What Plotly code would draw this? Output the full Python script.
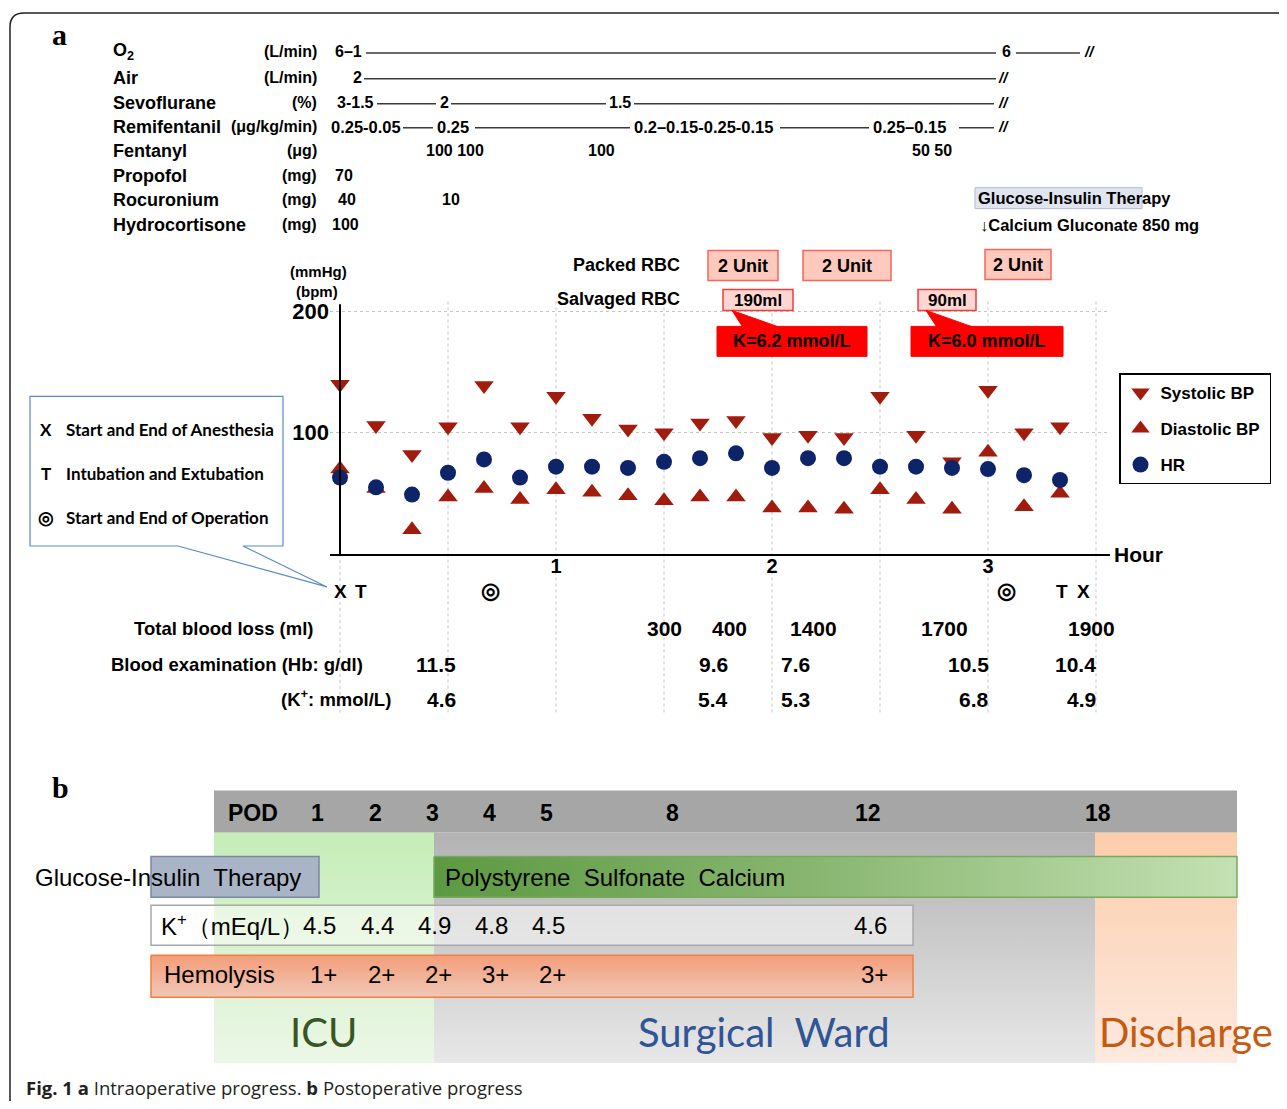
import plotly.graph_objects as go

W, H = 1287, 1109          # browser window size
OFF = 8                     # default body margin of the html page
FW, FH = W - 2 * OFF, H - 2 * OFF

# ---------------- data ----------------
time_min = [0, 10, 20, 30, 40, 50, 60, 70, 80, 90, 100, 110, 120, 130, 140, 150, 160, 170, 180, 190, 200]
systolic_bp = [140, 106, 82, 105, 139, 105, 130, 112, 103, 100, 108, 110, 96, 98, 96, 130, 98, 76, 135, 100, 105]
diastolic_bp = [70, 54, 20, 47, 54, 45, 53, 51, 48, 44, 47, 47, 38, 38, 37, 53, 45, 37, 84, 39, 50]
heart_rate = [63, 55, 49, 67, 78, 63, 72, 72, 71, 76, 79, 83, 71, 79, 79, 72, 72, 71, 70, 65, 61]

hour_ticks = [1, 2, 3]
y_ticks = [100, 200]

drug_names = ["O<sub>2</sub>", "Air", "Sevoflurane", "Remifentanil", "Fentanyl", "Propofol", "Rocuronium", "Hydrocortisone"]
drug_units = ["(L/min)", "(L/min)", "(%)", "(μg/kg/min)", "(μg)", "(mg)", "(mg)", "(mg)"]
drug_doses = [
    ["6–1", "6"],
    ["2"],
    ["3-1.5", "2", "1.5"],
    ["0.25-0.05", "0.25", "0.2–0.15-0.25-0.15", "0.25–0.15"],
    ["100 100", "100", "50 50"],
    ["70"],
    ["40", "10"],
    ["100"],
]

packed_rbc = ["2 Unit", "2 Unit", "2 Unit"]
salvaged_rbc = ["190ml", "90ml"]
salvaged_k = ["K=6.2 mmol/L", "K=6.0 mmol/L"]

blood_loss_ml = [300, 400, 1400, 1700, 1900]
hb_g_dl = [11.5, 9.6, 7.6, 10.5, 10.4]
k_intraop = [4.6, 5.4, 5.3, 6.8, 4.9]

pod_days = [1, 2, 3, 4, 5, 8, 12, 18]
k_postop_days = [1, 2, 3, 4, 5, 12]
k_postop = [4.5, 4.4, 4.9, 4.8, 4.5, 4.6]
hemolysis = ["1+", "2+", "2+", "3+", "2+", "3+"]

# ---------------- styling helpers ----------------
ARIAL = "Liberation Sans, Arial, sans-serif"
SERIF = "Liberation Serif, Times New Roman, serif"
CALIBRI = "Lato, Open Sans, sans-serif"
CAPTION = "Open Sans, sans-serif"
RED = "#a11c0c"
NAVY = "#0e2468"


def PX(x):
    return (x - OFF) / FW


def PY(y):
    return 1 - (y - OFF) / FH


annotations, shapes, deco = [], [], []


def txt(x, y, text, size=15, bold=True, anchor="left", color="black", family=ARIAL):
    t = f"<b>{text}</b>" if bold else text
    annotations.append(dict(x=x, y=y, xref="x2", yref="y2", text=t, showarrow=False,
                            xanchor=anchor, yanchor="middle",
                            font=dict(family=family, size=size, color=color)))


def seg(x0, y0, x1, y1, color="#3a3a3a", width=1.5):
    shapes.append(dict(type="line", xref="x2", yref="y2", x0=x0, y0=y0, x1=x1, y1=y1,
                       line=dict(color=color, width=width), layer="above"))


def box(x0, y0, x1, y1, fill, line="rgba(0,0,0,0)", width=1.5):
    shapes.append(dict(type="rect", xref="x2", yref="y2", x0=x0, y0=y0, x1=x1, y1=y1,
                       fillcolor=fill, line=dict(color=line, width=width), layer="above"))


def poly(path, fill, line, width=1.2):
    shapes.append(dict(type="path", xref="x2", yref="y2", path=path, fillcolor=fill,
                       line=dict(color=line, width=width), layer="above"))


def grad(x0, y0, x1, y1, colors, orient="vertical", line=None, lw=0):
    start, stop = (y0, y1) if orient == "vertical" else (x0, x1)
    n = len(colors)
    cs = [[i / (n - 1), c] for i, c in enumerate(colors)]
    deco.append(go.Scatter(x=[x0, x1, x1, x0, x0], y=[y0, y0, y1, y1, y0], xaxis="x2", yaxis="y2",
                           mode="lines", fill="toself",
                           fillgradient=dict(type=orient, colorscale=cs, start=start, stop=stop),
                           line=dict(width=lw, color=line or "rgba(0,0,0,0)"),
                           hoverinfo="skip", showlegend=False))


# ---------------- main scatter ----------------
hours = [t / 60 for t in time_min]
fig = go.Figure()
fig.add_trace(go.Scatter(x=hours, y=systolic_bp, mode="markers", name="<b>Systolic BP </b>",
                         marker=dict(symbol="triangle-down", size=17, color=RED), cliponaxis=False,
                         legendgroup="s"))
fig.add_trace(go.Scatter(x=hours, y=diastolic_bp, mode="markers", name="<b>Diastolic BP </b>",
                         marker=dict(symbol="triangle-up", size=17, color=RED), cliponaxis=False,
                         legendgroup="d"))
fig.add_trace(go.Scatter(x=hours, y=heart_rate, mode="markers", name="<b>HR</b>",
                         marker=dict(symbol="circle", size=16, color=NAVY), cliponaxis=False,
                         legendgroup="h"))

# vertical dotted gridlines (every half hour), extending through the table
for h in [0.5, 1, 1.5, 2, 2.5, 3, 3.5]:
    shapes.append(dict(type="line", xref="x", yref="paper", x0=h, x1=h, y0=PY(300), y1=PY(712),
                       line=dict(color="#c4c4c4", width=1, dash="dot"), layer="below"))
shapes.append(dict(type="line", xref="x", yref="paper", x0=0, x1=0, y0=PY(553), y1=PY(712),
                   line=dict(color="#c4c4c4", width=1, dash="dot"), layer="below"))
# vertical axis line at hour 0
shapes.append(dict(type="line", xref="x", yref="y", x0=0, x1=0, y0=0, y1=206,
                   line=dict(color="black", width=2), layer="above"))

# ---------------- outer frame ----------------
poly("M1300,11 L24,11 Q10,11 10,25 L10,1102", "rgba(0,0,0,0)", "#222", 1.5)

# ---------------- panel a : drugs ----------------
txt(50, 33, "a", 30, family=SERIF, anchor="left")
row_y = [50, 76, 101, 125, 149, 174, 198, 223]
dose_x = [[333, 1000], [351], [335, 438, 607], [329, 435, 632, 871], [424, 586, 910], [333], [336, 440], [330]]
line_segs = {0: [(366, 996), (1016, 1080)], 1: [(364, 996)], 2: [(377, 436), (451, 606), (634, 994)],
             3: [(403, 433), (475, 630), (780, 869), (959, 994)]}
slash_x = {0: 1082, 1: 996, 2: 996, 3: 996}
for i, (name, unit, y) in enumerate(zip(drug_names, drug_units, row_y)):
    txt(111, y, name, 18)
    txt(319, y, unit, 16, anchor="right")
    for d, xx in zip(drug_doses[i], dose_x[i]):
        txt(xx, y, d, 16.5 if i == 3 else 16)
    for (a, b) in line_segs.get(i, []):
        seg(a, y + 1, b, y + 1)
    if i in slash_x:
        txt(slash_x[i], y, "<i>//</i>", 15)

# glucose-insulin / calcium (top right)
box(975, 186, 1142, 207, "#dfe4ee", "#b3bfd3", 1)
txt(976, 196, "Glucose-Insulin Therapy", 16.5)
txt(978, 223, "<span style='font-weight:normal'>↓</span>Calcium Gluconate 850 mg", 16.5)

# transfusion rows
txt(682, 263, "Packed RBC", 18, anchor="right")
txt(682, 298, "Salvaged RBC", 18, anchor="right")
for (x0, x1, y0, y1), t in zip([(708, 778, 249, 279), (803, 891, 249, 279), (985, 1051, 248, 278)], packed_rbc):
    box(x0, y0, x1, y1, "#ffcabd", "#f5675a", 1.5)
    txt((x0 + x1) / 2, (y0 + y1) / 2, t, 18, anchor="center")
for (x0, x1), t in zip([(723, 793), (918, 976)], salvaged_rbc):
    box(x0, 288, x1, 309, "#ffd7d2", "#f23d3d", 1.5)
    txt((x0 + x1) / 2, 299, t, 17, anchor="center")
for (x0, x1, tip), t in zip([(717, 867, 732), (911, 1063, 926)], salvaged_k):
    box(x0, 325, x1, 355, "#ff0000", "#ff0000", 1)
    poly(f"M{tip},309 L{tip + 11},326 L{tip + 48},326 Z", "#ff0000", "#ff0000", 1)
    txt((x0 + x1) / 2, 340, t, 18, anchor="center")

# axis labels
txt(318, 270, "(mmHg)", 15, anchor="center")
txt(317, 290, "(bpm)", 15, anchor="center")
txt(1112, 553, "Hour", 21)

# event markers
for xx, s, sz, yy in [(340, "X", 19, 591), (361, "T", 19, 591), (490, "◎", 22, 590),
                      (1006, "◎", 22, 590), (1062, "T", 19, 591), (1083, "X", 19, 591)]:
    txt(xx, yy, s, sz, anchor="center")

# callout legend (left)
poly("M30,395 L283,395 L283,545 L243,545 L327,586 L178,545 L30,545 Z", "white", "#5b8bc6", 1.2)
for yy, sym, label, sz in [(428, "X", "Start and End of Anesthesia", 17), (472, "T", "Intubation and Extubation", 17),
                           (516, "◎", "Start and End of Operation", 18)]:
    txt(46, yy, sym, sz, anchor="center", family=CALIBRI)
    txt(64, yy, label, 17, family=CALIBRI)

# table under the axis
txt(316, 628, "Total blood loss (ml)", 18.5, anchor="right")
txt(365, 664, "Blood examination (Hb: g/dl)", 18.5, anchor="right")
txt(393, 697, "(K<sup>+</sup>: mmol/L)", 18.5, anchor="right")
for v, xr in zip(blood_loss_ml, [684, 749, 839, 970, 1117]):
    txt(xr, 628, str(v), 21, anchor="right")
for v, xr in zip(hb_g_dl, [458, 730, 812, 991, 1098]):
    txt(xr, 664, f"{v:.1f}", 21, anchor="right")
for v, xr in zip(k_intraop, [458, 730, 812, 991, 1098]):
    txt(xr, 699, f"{v:.1f}", 21, anchor="right")

# ---------------- panel b ----------------
txt(50, 787, "b", 30, family=SERIF)
grad(214, 832, 434, 1063, ["#c6edb8", "#ecf7e7"])
grad(434, 832, 1095, 1063, ["#b3b3b3", "#e8e8e8"])
grad(1095, 832, 1237, 1063, ["#fccdab", "#fdeae0"])
box(214, 790, 1237, 832, "#a6a6a6", "rgba(0,0,0,0)", 0)
pod_px = {1: 317, 2: 375, 3: 432, 4: 489, 5: 546, 8: 672, 12: 868, 18: 1098}
txt(253, 812, "POD", 23, anchor="center")
for d in pod_days:
    txt(pod_px[d], 812, str(d), 23, anchor="center")

box(151, 856, 319, 897, "#aab4c7", "#7a88a3", 1.5)
txt(33, 877, "Glucose-Insulin  Therapy", 24, bold=False)
grad(434, 856, 1237, 897, ["#5d9942", "#8bb874", "#c4e1b3"], orient="horizontal", line="#7aa95e", lw=1.5)
txt(443, 877, "Polystyrene  Sulfonate  Calcium", 24, bold=False)

box(151, 905, 913, 945, "rgba(255,255,255,0.5)", "#a8a8a8", 1.5)
txt(159, 925, "K<sup>+</sup>（mEq/L）", 24, bold=False)
for d, v in zip(k_postop_days, k_postop):
    txt(pod_px[d] + 2, 925, f"{v:.1f}", 24, bold=False, anchor="center")

grad(151, 955, 913, 997, ["#f49f7c", "#efc9b8"], line="#f0803f", lw=1.5)
txt(162, 974, "Hemolysis", 24, bold=False)
for d, v in zip(k_postop_days, hemolysis):
    txt(pod_px[d] + 6, 974, v, 24, bold=False, anchor="center")

txt(323, 1032, "ICU", 40, bold=False, anchor="center", color="#375623", family=CALIBRI)
txt(764, 1032, "Surgical  Ward", 40, bold=False, anchor="center", color="#2f5597", family=CALIBRI)
txt(1097, 1032, "Discharge", 40, bold=False, color="#c55a11", family=CALIBRI)

txt(24, 1087, "<b>Fig. 1</b> <b>a</b> Intraoperative progress. <b>b</b> Postoperative progress", 18.5,
    bold=False, color="#231f20", family=CAPTION)

for tr in deco:
    fig.add_trace(tr)

fig.update_layout(
    width=FW, height=FH, margin=dict(l=0, r=0, t=0, b=0),
    paper_bgcolor="white", plot_bgcolor="rgba(0,0,0,0)",
    xaxis=dict(domain=[PX(330), PX(1110)], range=[-10 / 216, 770 / 216], anchor="y",
               tickvals=hour_ticks, ticktext=[str(t) for t in hour_ticks],
               tickfont=dict(family=ARIAL, size=20, color="black", weight="bold"),
               showgrid=False, zeroline=False, showline=True, linecolor="black", linewidth=2,
               ticks="", ticklabelstandoff=-7, fixedrange=True),
    yaxis=dict(domain=[PY(553), PY(300)], range=[0, 253 / 1.215], anchor="x",
               tickvals=y_ticks, ticktext=[str(t) for t in y_ticks],
               tickfont=dict(family=ARIAL, size=22, color="black", weight="bold"),
               showgrid=True, gridcolor="#c4c4c4", griddash="dot", gridwidth=1,
               zeroline=False, showline=False, ticks="", fixedrange=True),
    xaxis2=dict(domain=[0, 1], range=[OFF, W - OFF], anchor="y2", visible=False, fixedrange=True),
    yaxis2=dict(domain=[0, 1], range=[H - OFF, OFF], anchor="x2", visible=False, fixedrange=True),
    showlegend=True,
    legend=dict(x=PX(1119), y=PY(372), xanchor="left", yanchor="top",
                bgcolor="white", bordercolor="black", borderwidth=1.5,
                font=dict(family=ARIAL, size=17, color="black"),
                tracegroupgap=11, traceorder="grouped"),
    annotations=annotations, shapes=shapes,
)

fig.write_html("out.html")
